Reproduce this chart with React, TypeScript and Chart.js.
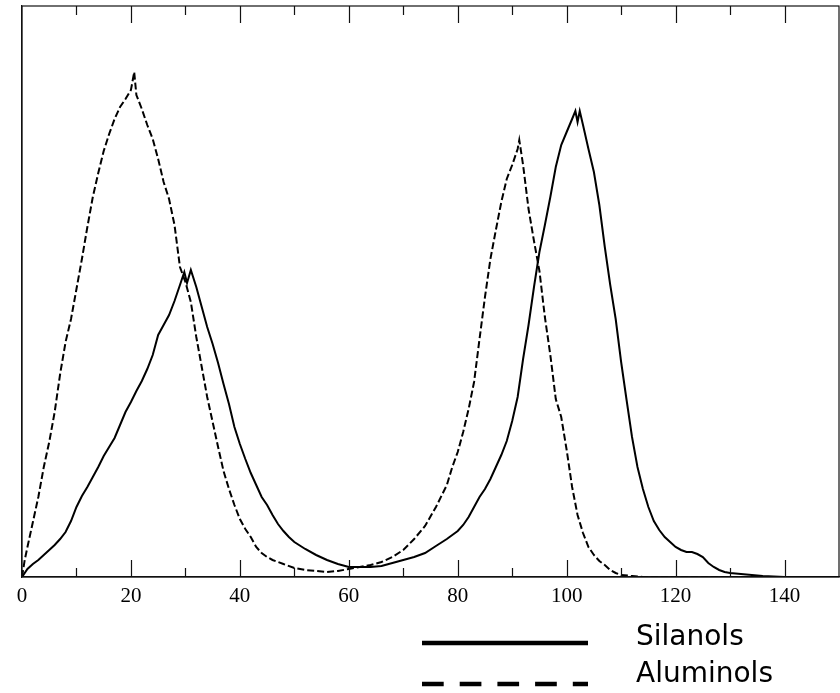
import React, { useEffect, useRef } from "react";
import { Chart, registerables } from "chart.js";

Chart.register(...registerables);

// Silanols (solid)
const silanolX = [0, 1, 2, 3, 4, 5, 6, 7, 8, 9, 10, 11, 12, 13, 14, 15, 16, 17, 18, 19, 20, 21, 22, 23, 24, 25, 26, 27, 28, 29, 29.8, 30.3, 31, 32, 33, 34, 35, 36, 37, 38, 39, 40, 41, 42, 43, 44, 45, 46, 47, 48, 49, 50, 52, 54, 56, 58, 60, 62, 64, 66, 68, 70, 72, 74, 76, 78, 80, 81, 82, 83, 84, 85, 86, 87, 88, 89, 90, 91, 92, 93, 94, 95, 96, 97, 98, 99, 100, 101, 101.6, 102, 102.4, 103, 104, 105, 106, 107, 108, 109, 110, 111, 112, 113, 114, 115, 116, 117, 118, 119, 120, 121, 122, 123, 124, 125, 126, 127, 128, 129, 130, 132, 134, 136, 138, 140, 150];
const silanolY = [0, 8, 13, 17, 22, 27, 32, 38, 45, 56, 70, 81, 90, 100, 110, 121, 130, 139, 152, 165, 175, 186, 196, 208, 222, 242, 252, 262, 276, 292, 305, 294, 307, 290, 270, 250, 233, 214, 193, 173, 150, 133, 118, 104, 92, 80, 72, 62, 53, 46, 40, 35, 28, 22, 17, 13, 10, 10, 10, 11, 14, 17, 20, 24, 31, 38, 46, 52, 60, 70, 80, 88, 98, 110, 122, 136, 156, 180, 218, 252, 290, 325, 352, 380, 410, 432, 445, 458, 466, 455, 466, 452, 428, 405, 372, 330, 292, 258, 215, 177, 140, 110, 88, 70, 56, 47, 40, 35, 30, 27, 25, 25, 23, 20, 14, 10, 7, 5, 4, 3, 2, 1, 0.5, 0, 0];

// Aluminols (dashed)
const aluminolX = [0, 0.5, 1, 2, 3, 4, 5, 6, 7, 8, 9, 10, 11, 12, 13, 14, 15, 16, 17, 18, 19, 20, 20.6, 21, 22, 23, 24, 25, 26, 27, 28, 29, 30, 31, 32, 33, 34, 35, 36, 37, 38, 39, 40, 41, 42, 43, 44, 45, 46, 48, 50, 52, 54, 56, 58, 60, 62, 64, 66, 68, 70, 72, 74, 76, 78, 79, 80, 81, 82, 83, 84, 85, 86, 87, 88, 89, 90, 91, 91.3, 92, 93, 94, 95, 96, 97, 98, 99, 100, 101, 102, 103, 104, 105, 106, 107, 108, 109, 110, 112, 114, 150];
const aluminolY = [0, 17, 30, 55, 80, 110, 135, 165, 203, 235, 258, 288, 318, 350, 380, 404, 426, 443, 458, 470, 478, 487, 505, 482, 468, 452, 438, 418, 395, 378, 352, 310, 295, 275, 240, 210, 180, 155, 130, 106, 88, 72, 58, 48, 40, 30, 24, 20, 17, 13, 9, 7, 6, 5, 6, 8, 10, 12, 15, 20, 27, 38, 51, 70, 92, 110, 125, 145, 168, 195, 238, 280, 318, 347, 375, 398, 412, 428, 437, 412, 368, 336, 306, 260, 222, 178, 160, 127, 90, 62, 44, 30, 22, 16, 12, 7, 4, 2, 1, 0, 0];

const xLabelValues = [0, 20, 40, 60, 80, 100, 120, 140];
const xTickValues = [10, 20, 30, 40, 50, 60, 70, 80, 90, 100, 110, 120, 130, 140];
const legendLabels = ["Silanols", "Aluminols"];

const framePlugin = {
  id: "frame",
  afterDraw(chart: any) {
    const { ctx, chartArea, scales } = chart;
    const xs = scales.x;
    ctx.save();
    ctx.strokeStyle = "#111";
    ctx.lineWidth = 1.2;
    ctx.setLineDash([]);
    ctx.strokeRect(chartArea.left, chartArea.top, chartArea.right - chartArea.left, chartArea.bottom - chartArea.top);
    for (const v of xTickValues) {
      const px = Math.round(xs.getPixelForValue(v)) + 0.5;
      const len = v % 20 === 0 ? 17 : 9;
      ctx.beginPath();
      ctx.moveTo(px, chartArea.bottom);
      ctx.lineTo(px, chartArea.bottom - len);
      ctx.moveTo(px, chartArea.top);
      ctx.lineTo(px, chartArea.top + len);
      ctx.stroke();
    }
    // legend
    ctx.strokeStyle = "#000";
    ctx.lineWidth = 4.5;
    ctx.beginPath();
    ctx.moveTo(422, 643);
    ctx.lineTo(588, 643);
    ctx.stroke();
    ctx.setLineDash([21.7, 16]);
    ctx.beginPath();
    ctx.moveTo(422, 684);
    ctx.lineTo(588, 684);
    ctx.stroke();
    ctx.setLineDash([]);
    ctx.fillStyle = "#000";
    ctx.font = '28px "DejaVu Sans", sans-serif';
    ctx.textBaseline = "alphabetic";
    ctx.textAlign = "left";
    ctx.fillText(legendLabels[0], 636, 645);
    ctx.fillText(legendLabels[1], 636, 682);
    ctx.restore();
  },
};

export default function App() {
  const ref = useRef<HTMLCanvasElement | null>(null);
  useEffect(() => {
    if (!ref.current) return;
    const chart = new Chart(ref.current, {
      type: "line",
      data: {
        datasets: [
          {
            label: legendLabels[0],
            data: silanolX.map((x, i) => ({ x, y: silanolY[i] })),
            borderColor: "#000",
            borderWidth: 2,
            pointRadius: 0,
            tension: 0,
            fill: false,
          },
          {
            label: legendLabels[1],
            data: aluminolX.map((x, i) => ({ x, y: aluminolY[i] })),
            borderColor: "#000",
            borderWidth: 2,
            borderDash: [7, 3],
            pointRadius: 0,
            tension: 0,
            fill: false,
          },
        ],
      },
      options: {
        animation: false,
        responsive: false,
        layout: { padding: { top: 6, right: 1, left: 0, bottom: 0 } },
        plugins: { legend: { display: false }, tooltip: { enabled: false } },
        scales: {
          x: {
            type: "linear",
            min: 0,
            max: 150,
            grid: { display: false, drawTicks: false },
            border: { display: true, color: "#111", width: 1.2 },
            afterBuildTicks: (s: any) => {
              s.ticks = xLabelValues.map((v) => ({ value: v }));
            },
            ticks: {
              color: "#000",
              padding: 7,
              autoSkip: false,
              maxRotation: 0,
              font: { family: '"Liberation Serif", serif', size: 21 },
              callback: (v: any) => String(v),
            },
            afterFit: (s: any) => {
              s.height = 116;
              s.paddingRight = 0;
            },
          },
          y: {
            type: "linear",
            min: 0,
            max: 571,
            grid: { display: false, drawTicks: false },
            border: { display: true, color: "#111", width: 1.2 },
            ticks: { display: false },
            afterFit: (s: any) => {
              s.width = 22;
            },
          },
        },
      },
      plugins: [framePlugin],
    });
    return () => chart.destroy();
  }, []);
  return (
    <div style={{ position: "absolute", left: 0, top: 0, width: 840, height: 693, background: "#fff" }}>
      <canvas ref={ref} width={840} height={693} style={{ display: "block" }} />
    </div>
  );
}
